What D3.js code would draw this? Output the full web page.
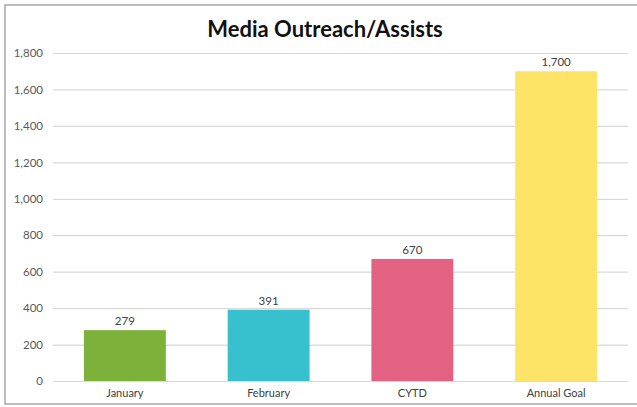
<!DOCTYPE html>
<html>
<head>
<meta charset="utf-8">
<script src="https://cdn.jsdelivr.net/npm/d3@7"></script>
<style>
  body { margin: 0; background: #fff; }
  svg { display: block; font-family: "Lato", "Open Sans", sans-serif; }
</style>
</head>
<body>
<svg id="chart" width="637" height="407"></svg>
<script>
const categories = ["January", "February", "CYTD", "Annual Goal"];
const values = [279, 391, 670, 1700];
const barColors = ["#7cb13a", "#37c1cf", "#e36282", "#fee466"];
const yTicks = [0, 200, 400, 600, 800, 1000, 1200, 1400, 1600, 1800];

const svg = d3.select("#chart");
const plotLeft = 53, plotRight = 628, plotTop = 53, plotBottom = 381;

// outer frame
svg.append("rect")
  .attr("x", 5).attr("y", 5)
  .attr("width", 640).attr("height", 399)
  .attr("fill", "none")
  .attr("stroke", "#a6a6a6")
  .attr("stroke-width", 1.5);

svg.append("text")
  .attr("x", 325).attr("y", 37)
  .attr("text-anchor", "middle")
  .attr("font-size", 22)
  .attr("font-weight", "bold")
  .attr("fill", "#111")
  .text("Media Outreach/Assists");

const x = d3.scaleBand()
  .domain(categories)
  .range([plotLeft, plotRight])
  .paddingInner(0.43)
  .paddingOuter(0.215);

const y = d3.scaleLinear()
  .domain([0, 1800])
  .range([plotBottom, plotTop]);

// gridlines + y labels
const yAxis = svg.append("g")
  .attr("transform", `translate(${plotLeft},0)`)
  .call(d3.axisLeft(y)
    .tickValues(yTicks)
    .tickSize(-(plotRight - plotLeft))
    .tickPadding(10)
    .tickFormat(d3.format(",")));
yAxis.select(".domain").remove();
yAxis.selectAll(".tick line").attr("stroke", "#d9d9d9").attr("stroke-width", 1.2);
yAxis.selectAll(".tick text")
  .attr("font-size", 11.5)
  .attr("fill", "#595959")
  .attr("font-family", "Lato, sans-serif");

// bars
svg.append("g").selectAll("rect")
  .data(values)
  .join("rect")
  .attr("x", (d, i) => x(categories[i]))
  .attr("y", d => y(d))
  .attr("width", x.bandwidth())
  .attr("height", d => y(0) - y(d))
  .attr("fill", (d, i) => barColors[i]);

// value labels
svg.append("g").selectAll("text")
  .data(values)
  .join("text")
  .attr("x", (d, i) => x(categories[i]) + x.bandwidth() / 2)
  .attr("y", d => y(d) - 5)
  .attr("text-anchor", "middle")
  .attr("font-size", 11.5)
  .attr("fill", "#404040")
  .text(d3.format(","));

// x labels
const xAxis = svg.append("g")
  .attr("transform", `translate(0,${plotBottom})`)
  .call(d3.axisBottom(x).tickSize(0).tickPadding(8));
xAxis.select(".domain").attr("stroke", "#d9d9d9").attr("stroke-width", 1.2);
xAxis.selectAll(".tick text")
  .attr("font-size", 11)
  .attr("fill", "#404040")
  .attr("font-family", "Lato, sans-serif");
</script>
</body>
</html>
